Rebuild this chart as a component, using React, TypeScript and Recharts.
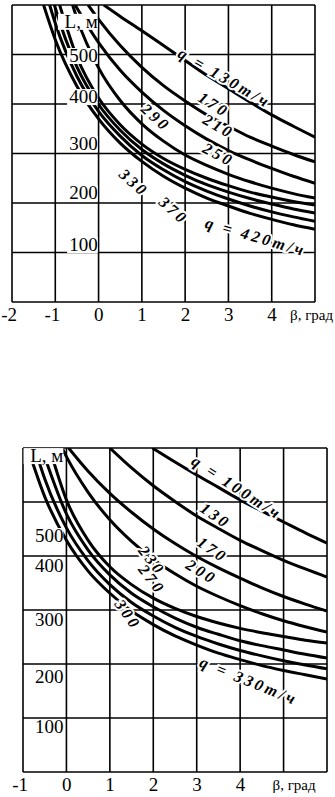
import React from "react";
import { ComposedChart, Line, Scatter, XAxis, YAxis, CartesianGrid } from "recharts";

const SERIF = '"Liberation Serif", "Times New Roman", serif';

// верхний график: q = 130 ... 420 т/ч
const BETA_A = [-1, -0.5, 0, 0.5, 1, 1.5, 2, 2.5, 3, 3.5, 4, 4.5, 5];
const Q_A = [130, 170, 210, 250, 290, 330, 370, 420];
// β, при котором кривая выходит из верхней кромки (L = 600)
const START_A = [0.12, -0.24, -0.54, -0.6, -0.9, -1.02, -1.13, -1.27];
const L_A = [
  [null, null, null, 577, 548, 518, 488, 458, 431, 404, 378, 355, 333],
  [null, null, 571, 518, 474, 437, 406, 378, 355, 333, 315, 298, 283],
  [null, 594, 524, 468, 424, 387, 356, 329, 306, 287, 270, 254, 240],
  [null, 573, 473, 407, 360, 325, 297, 276, 258, 243, 230, 219, 210],
  [null, 495, 412, 358, 319, 290, 268, 250, 235, 222, 212, 203, 196],
  [594, 475, 399, 347, 308, 279, 256, 237, 222, 209, 198, 188, 180],
  [563, 456, 385, 335, 296, 267, 243, 224, 208, 194, 182, 172, 163],
  [530, 436, 370, 321, 284, 254, 230, 210, 194, 179, 167, 156, 147],
];
const XTICKS_A = [-2, -1, 0, 1, 2, 3, 4, 5];

// нижний график: q = 100 ... 330 т/ч
const BETA_B = [-0.5, 0, 0.5, 1, 1.5, 2, 2.5, 3, 3.5, 4, 4.5, 5, 5.5, 6];
const Q_B = [100, 130, 170, 200, 230, 270, 300, 330];
const START_B = [1.98, 1.0, 0.05, -0.1, -0.39, -0.57, -0.73, -0.89];
const L_B = [
  [null, null, null, null, null, null, 574, 550, 527, 504, 483, 463, 443, 424],
  [null, null, null, null, 563, 530, 501, 474, 451, 429, 410, 392, 376, 361],
  [null, null, 557, 516, 481, 450, 423, 399, 378, 359, 341, 325, 311, 298],
  [null, 584, 518, 467, 427, 394, 367, 344, 325, 308, 293, 280, 269, 259],
  [null, 504, 429, 380, 347, 322, 303, 288, 276, 266, 258, 251, 244, 239],
  [null, 478, 411, 365, 331, 306, 285, 268, 255, 243, 234, 226, 218, 211],
  [543, 452, 391, 347, 314, 289, 268, 251, 237, 225, 215, 206, 198, 191],
  [510, 429, 372, 331, 298, 273, 252, 235, 220, 208, 197, 188, 180, 172],
];
const XTICKS_B = [-1, 0, 1, 2, 3, 4, 5, 6];

const YTICKS = [0, 100, 200, 300, 400, 500, 600];
const YLABELS = ["L, м", "500", "400", "300", "200", "100"];
// где по вертикали стоят подписи оси L (в единицах L)
const YLABEL_AT_A = [566, 497, 414, 319, 220, 115];
const YLABEL_AT_B = [585, 437, 381, 281, 176, 83];

// подписи кривых
const CURVE_TEXT_A = ["q = 130т/ч", "170", "210", "250", "290", "330", "370", "q = 420т/ч"];
const CURVE_TEXT_B = ["q = 100т/ч", "130", "170", "200", "230", "270", "300", "q = 330т/ч"];
const CURVE_LABEL_A = [
  { x: 2.91, y: 452, angle: 30 },
  { x: 2.66, y: 398, angle: 32 },
  { x: 2.77, y: 354, angle: 30 },
  { x: 2.77, y: 297, angle: 28 },
  { x: 1.32, y: 372, angle: 42 },
  { x: 0.81, y: 240, angle: 42 },
  { x: 1.73, y: 184, angle: 42 },
  { x: 3.63, y: 131, angle: 16 },
];
const CURVE_LABEL_B = [
  { x: 3.92, y: 526, angle: 33 },
  { x: 3.43, y: 474, angle: 35 },
  { x: 3.36, y: 411, angle: 35 },
  { x: 3.11, y: 370, angle: 32 },
  { x: 1.96, y: 391, angle: 52 },
  { x: 1.96, y: 356, angle: 52 },
  { x: 1.41, y: 291, angle: 55 },
  { x: 4.2, y: 168, angle: 22 },
];

const buildCurve = (start: number, vals: (number | null)[], grid: number[]) => [
  { x: start, y: 600 },
  ...grid
    .map((b, i) => ({ x: b, y: vals[i] }))
    .filter((p) => p.y !== null && p.x > start),
];

const makeTick = (betaAt: number, betaDx: number) => (props: any) => {
  const { x, y, payload } = props;
  const v = payload.value;
  if (v === betaAt) {
    return (
      <text x={x + betaDx} y={y} dy={18} fontSize={15} fontFamily={SERIF} textAnchor="start" fill="#000">
        β, град
      </text>
    );
  }
  if (v > betaAt) return <g />;
  return (
    <text x={x + 5} y={y} dy={19} fontSize={19} fontFamily={SERIF} textAnchor="end" fill="#000">
      {v < 0 ? "-" + Math.abs(v) : String(v)}
    </text>
  );
};

const Mark = (props: any) => {
  const { cx, cy, payload } = props;
  if (payload.kind === "y") {
    const w = payload.text.length * 9.2 + 3;
    return (
      <g>
        <rect x={cx - w} y={cy - 8} width={w} height={16} fill="#fff" />
        <text x={cx} y={cy} dy={6} textAnchor="end" fontSize={19} fontFamily={SERIF} fill="#000">
          {payload.text}
        </text>
      </g>
    );
  }
  return (
    <text
      x={cx}
      y={cy}
      dy={5}
      textAnchor="middle"
      transform={`rotate(${payload.angle} ${cx} ${cy})`}
      fontSize={16}
      fontStyle="italic"
      fontWeight="bold"
      letterSpacing={3}
      fontFamily={SERIF}
      fill="#000"
      stroke="#fff"
      strokeWidth={4}
      paintOrder="stroke"
    >
      {payload.text}
    </text>
  );
};

type ChartProps = {
  height: number;
  margin: { top: number; right: number; bottom: number; left: number };
  axisHeight: number;
  xTicks: number[];
  betaAt: number;
  betaDx: number;
  grid: number[];
  starts: number[];
  values: (number | null)[][];
  qs: number[];
  curveText: string[];
  curveLabel: { x: number; y: number; angle: number }[];
  yLabelX: number;
  yLabelAt: number[];
};

const Chart = (p: ChartProps) => {
  const marks = [
    ...YLABELS.map((t, i) => ({ x: p.yLabelX, y: p.yLabelAt[i], text: t, kind: "y" })),
    ...p.curveText.map((t, i) => ({ ...p.curveLabel[i], text: t, kind: "q" })),
  ];
  return (
    <ComposedChart width={335} height={p.height} margin={p.margin}>
      <CartesianGrid stroke="#000" strokeWidth={1.6} fill="#fff" />
      <XAxis
        dataKey="x"
        type="number"
        domain={[p.xTicks[0], p.xTicks[p.xTicks.length - 1]]}
        ticks={p.xTicks}
        allowDataOverflow
        axisLine={false}
        tickLine={false}
        tickSize={0}
        tickMargin={0}
        height={p.axisHeight}
        interval={0}
        tick={makeTick(p.betaAt, p.betaDx)}
      />
      <YAxis hide type="number" domain={[0, 600]} ticks={YTICKS} allowDataOverflow width={0} />
      {p.qs.map((q, i) => (
        <Line
          key={q}
          data={buildCurve(p.starts[i], p.values[i], p.grid)}
          dataKey="y"
          type="monotone"
          stroke="#000"
          strokeWidth={3}
          dot={false}
          activeDot={false}
          isAnimationActive={false}
        />
      ))}
      <Scatter data={marks} dataKey="y" shape={Mark} isAnimationActive={false} />
    </ComposedChart>
  );
};

export default function App() {
  return (
    <div style={{ position: "absolute", left: 0, top: 0, width: 335, height: 797, background: "#fff", overflow: "hidden" }}>
      <div style={{ position: "absolute", left: 0, top: 0 }}>
        <Chart
          height={330}
          margin={{ top: 5, right: 20, bottom: 0, left: 12 }}
          axisHeight={28}
          xTicks={XTICKS_A}
          betaAt={5}
          betaDx={-25}
          grid={BETA_A}
          starts={START_A}
          values={L_A}
          qs={Q_A}
          curveText={CURVE_TEXT_A}
          curveLabel={CURVE_LABEL_A}
          yLabelX={-0.02}
          yLabelAt={YLABEL_AT_A}
        />
      </div>
      <div style={{ position: "absolute", left: 0, top: 440 }}>
        <Chart
          height={357}
          margin={{ top: 8, right: 8, bottom: 0, left: 23 }}
          axisHeight={25}
          xTicks={XTICKS_B}
          betaAt={5}
          betaDx={-11}
          grid={BETA_B}
          starts={START_B}
          values={L_B}
          qs={Q_B}
          curveText={CURVE_TEXT_B}
          curveLabel={CURVE_LABEL_B}
          yLabelX={-0.07}
          yLabelAt={YLABEL_AT_B}
        />
      </div>
    </div>
  );
}
